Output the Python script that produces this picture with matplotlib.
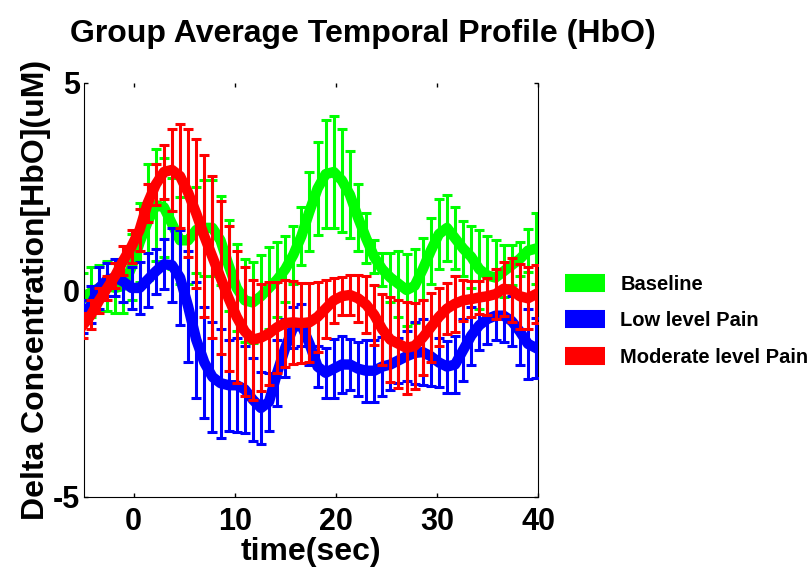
import matplotlib
matplotlib.use("Agg")
import matplotlib.pyplot as plt
from matplotlib.lines import Line2D

plt.rcParams['font.family'] = ['Liberation Sans', 'DejaVu Sans']
plt.rcParams['font.weight'] = 'bold'
plt.rcParams['axes.unicode_minus'] = False

# sample times (s) relative to stimulus onset
time_s = [-5.0, -4.2, -3.4, -2.6, -1.8, -1.0, -0.2, 0.6, 1.4, 2.2,
          3.0, 3.8, 4.6, 5.4, 6.2, 7.0, 7.8, 8.6, 9.4, 10.2,
          11.0, 11.8, 12.6, 13.4, 14.2, 15.0, 15.8, 16.6, 17.4, 18.2,
          19.0, 19.8, 20.6, 21.4, 22.2, 23.0, 23.8, 24.6, 25.4, 26.2,
          27.0, 27.8, 28.6, 29.4, 30.2, 31.0, 31.8, 32.6, 33.4, 34.2,
          35.0, 35.8, 36.6, 37.4, 38.2, 39.0, 39.8]

# group mean HbO change (uM) per condition
baseline_mean = [-0.2, -0.05, 0.05, 0.1, 0.05, 0.1, 0.55, 1.15, 1.65, 2.05,
                 2.0, 1.6, 1.2, 1.2, 1.45, 1.5, 1.5, 1.2, 0.6, 0.05,
                 -0.25, -0.3, -0.15, 0.05, 0.25, 0.5, 0.85, 1.3, 1.9, 2.45,
                 2.8, 2.85, 2.65, 2.3, 1.75, 1.25, 0.8, 0.5, 0.3, 0.15,
                 0.0, 0.1, 0.5, 0.95, 1.35, 1.5, 1.25, 1.0, 0.8, 0.5,
                 0.35, 0.3, 0.45, 0.6, 0.75, 0.95, 1.0]
low_mean = [-0.65, -0.35, 0.05, 0.25, 0.3, 0.2, 0.05, 0.05, 0.25, 0.45,
            0.62, 0.6, 0.3, -0.4, -1.2, -1.75, -2.1, -2.25, -2.3, -2.3,
            -2.4, -2.65, -2.85, -2.7, -2.0, -1.4, -0.9, -0.85, -1.3, -1.85,
            -2.0, -1.9, -1.8, -1.8, -1.9, -1.95, -1.95, -1.85, -1.8, -1.7,
            -1.6, -1.52, -1.5, -1.6, -1.75, -1.85, -1.8, -1.45, -1.1, -0.85,
            -0.7, -0.62, -0.62, -0.75, -1.0, -1.3, -1.4]
moderate_mean = [-0.85, -0.6, -0.25, 0.05, 0.35, 0.72, 1.05, 1.45, 2.1, 2.55,
                 2.85, 2.9, 2.75, 2.35, 1.85, 1.3, 0.8, 0.3, -0.2, -0.65,
                 -1.0, -1.2, -1.15, -1.05, -0.9, -0.8, -0.78, -0.8, -0.78, -0.65,
                 -0.45, -0.25, -0.15, -0.12, -0.2, -0.35, -0.6, -0.95, -1.2, -1.3,
                 -1.4, -1.35, -1.15, -0.9, -0.65, -0.45, -0.33, -0.25, -0.22, -0.18,
                 -0.15, -0.1, 0.03, 0.0, -0.15, -0.2, -0.1]

# standard error per sample
baseline_err = [0.6, 0.6, 0.55, 0.6, 0.6, 0.65, 0.8, 0.95, 1.4, 1.35,
                1.2, 1.1, 1.05, 1.05, 1.05, 1.15, 1.15, 1.07, 1.1, 1.05,
                1.0, 0.98, 1.0, 1.0, 0.9, 0.8, 0.7, 0.7, 0.95, 1.13,
                1.3, 1.36, 1.25, 1.05, 0.8, 0.6, 0.4, 0.4, 0.6, 0.8,
                0.87, 0.9, 0.75, 0.8, 0.85, 0.8, 0.75, 0.67, 0.75, 0.95,
                0.95, 0.9, 0.63, 0.48, 0.41, 0.52, 0.86]
low_err = [0.4, 0.45, 0.5, 0.4, 0.45, 0.5, 0.5, 0.62, 0.65, 0.55,
           0.6, 0.9, 1.15, 1.35, 1.4, 1.33, 1.33, 1.32, 1.1, 1.13,
           1.05, 1.0, 0.87, 0.7, 0.8, 0.7, 0.5, 0.5, 0.5, 0.5,
           0.6, 0.72, 0.68, 0.62, 0.65, 0.75, 0.75, 0.72, 0.62, 0.55,
           0.6, 0.75, 0.8, 0.72, 0.6, 0.63, 0.68, 0.75, 0.7, 0.6,
           0.6, 0.58, 0.64, 0.6, 0.82, 0.85, 0.73]
moderate_err = [0.3, 0.35, 0.3, 0.3, 0.3, 0.35, 0.4, 0.5, 0.45, 0.5,
                0.65, 1.0, 1.25, 1.55, 1.8, 1.95, 1.95, 1.85, 1.75, 1.6,
                1.55, 1.45, 1.3, 1.25, 1.1, 1.05, 1.0, 0.97, 0.95, 0.85,
                0.7, 0.55, 0.46, 0.48, 0.57, 0.7, 0.72, 0.85, 1.03, 1.06,
                1.1, 1.03, 0.9, 0.83, 0.7, 0.62, 0.68, 0.5, 0.44, 0.4,
                0.45, 0.6, 0.65, 0.78, 0.78, 0.75, 0.7]

conditions = ['Baseline', 'Low level Pain', 'Moderate level Pain']
colors = ['#00ff00', '#0000ff', '#ff0000']
means = [baseline_mean, low_mean, moderate_mean]
errs = [baseline_err, low_err, moderate_err]

fig = plt.figure(figsize=(8.1, 5.67), dpi=100)
ax = fig.add_axes([84 / 810, 70 / 567, 454 / 810, 414 / 567])

for i, (m, e, c) in enumerate(zip(means, errs, colors)):
    ax.errorbar(time_s, m, yerr=e, color=c, lw=7.5, elinewidth=2.2,
                capsize=3.3, capthick=2.2, zorder=2 + i)

ax.set_xlim(-4.9, 40)
ax.set_ylim(-5, 5)
ax.set_xticks([0, 10, 20, 30, 40])
ax.set_yticks([-5, 0, 5])
ax.tick_params(direction='in', length=3, width=1, top=True, right=True,
               labelsize=22)
ax.tick_params(axis='x', pad=7)
ax.tick_params(axis='y', pad=3)
ax.spines['top'].set_visible(False)

ax.set_xlabel('time(sec)', fontsize=23, fontweight='bold', labelpad=0)
ax.set_ylabel('Delta Concentration[HbO](uM)', fontsize=23,
              fontweight='bold', labelpad=1)
fig.text(363 / 810, (567 - 42) / 567, 'Group Average Temporal Profile (HbO)',
         ha='center', va='baseline', fontsize=23, fontweight='bold')

handles = [Line2D([], [], color=c, lw=13, solid_capstyle='butt') for c in colors]
fig.legend(handles, conditions, loc='center left',
           bbox_to_anchor=(565 / 810, (567 - 321) / 567), frameon=False,
           prop={'weight': 'bold', 'size': 14.5},
           handlelength=2.0, handletextpad=0.75, labelspacing=0.85,
           borderpad=0, borderaxespad=0)

fig.savefig('out.png', dpi=100)
